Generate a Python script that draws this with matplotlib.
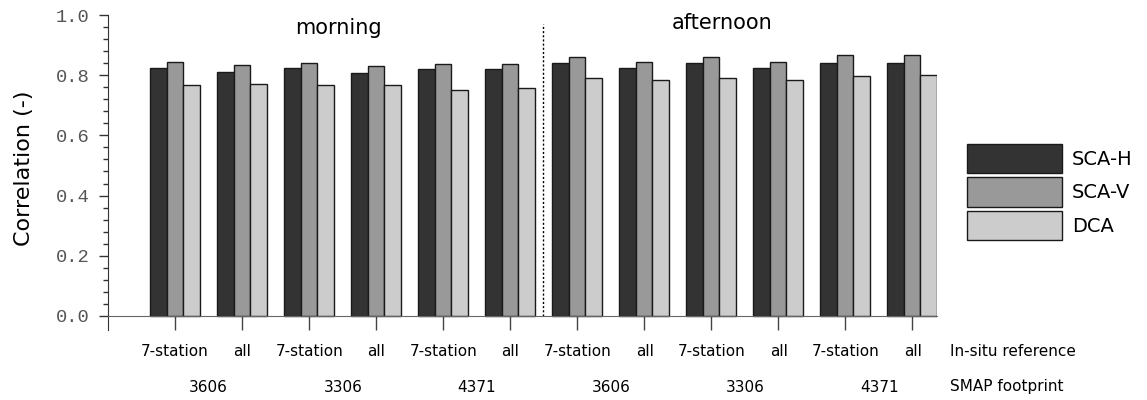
import matplotlib
matplotlib.use("Agg")
import matplotlib.pyplot as plt
import numpy as np
from matplotlib.ticker import FixedLocator

plt.rcParams["font.family"] = ["DejaVu Sans"]

reference = ["7-station", "all"] * 6
footprints = ["3606", "3306", "4371", "3606", "3306", "4371"]
periods = ["morning", "afternoon"]
series_names = ["SCA-H", "SCA-V", "DCA"]
sca_h = [0.825, 0.811, 0.823, 0.808, 0.821, 0.821, 0.840, 0.825, 0.840, 0.824, 0.840, 0.840]
sca_v = [0.844, 0.833, 0.841, 0.830, 0.838, 0.838, 0.860, 0.845, 0.860, 0.845, 0.866, 0.866]
dca = [0.768, 0.770, 0.768, 0.768, 0.750, 0.757, 0.790, 0.785, 0.790, 0.784, 0.796, 0.800]
colors = ["#333333", "#999999", "#cccccc"]
yticks = [0.0, 0.2, 0.4, 0.6, 0.8, 1.0]

fig = plt.figure(figsize=(11.47, 4.0), dpi=100)
ax = fig.add_axes([108/1147, 1-329.5/400, (937-108)/1147, 314.5/400])

x = np.arange(1, len(reference) + 1)
w = 0.25
handles = []
for k, (vals, c, name) in enumerate(zip([sca_h, sca_v, dca], colors, series_names)):
    b = ax.bar(x + (k - 1) * w, vals, width=w, color=c, edgecolor="#1a1a1a",
               linewidth=1.0, label=name, zorder=2)
    handles.append(b)

ax.set_xlim(0, 12.375)
ax.set_ylim(-0.045, 1.0)
ax.spines["top"].set_visible(False)
ax.spines["right"].set_visible(False)
ax.spines["bottom"].set_position(("data", 0))
ax.spines["bottom"].set_color("#666666")
ax.spines["left"].set_color("#333333")

ax.set_xticks(x)
ax.set_xticklabels([])
ax.tick_params(axis="x", direction="out", length=10, width=1, color="#444444")
ax.set_yticks(yticks)
ax.set_yticklabels([f"{v:.1f}" for v in yticks], family="Liberation Mono")
ax.yaxis.set_minor_locator(FixedLocator([i * 0.04 for i in range(26)]))
ax.tick_params(axis="y", which="major", length=6.5, width=1, color="#333333", pad=7,
               labelsize=13.5, labelcolor="#555555")
ax.tick_params(axis="y", which="minor", length=3.6, width=1, color="#333333")

ax.axvline(6.5, ymin=0.045/1.045, ymax=(0.045+0.97)/1.045, color="black",
           linestyle=(0, (1.5, 1.5)), linewidth=1)

for xi, lab in zip(x, reference):
    fig.text((108 + xi*67.08)/1147, 1-352/400, lab, ha="center", va="center", fontsize=11)
for j, lab in enumerate(footprints):
    fig.text((108 + (1.5 + 2*j)*67.08)/1147, 1-387/400, lab, ha="center", va="center", fontsize=11)
fig.text(950/1147, 1-352/400, "In-situ reference", ha="left", va="center", fontsize=11)
fig.text(950/1147, 1-387/400, "SMAP footprint", ha="left", va="center", fontsize=11)

fig.text(338/1147, 1-28/400, periods[0], ha="center", va="center", fontsize=15)
fig.text(722/1147, 1-23/400, periods[1], ha="center", va="center", fontsize=15)

fig.text(24/1147, 1-168/400, "Correlation (-)", rotation=90, ha="center", va="center", fontsize=16)

leg = fig.legend(handles=handles, labels=series_names, loc="upper left",
                 bbox_to_anchor=(967/1147, 1-144/400), frameon=False, fontsize=14,
                 handlelength=4.9, handleheight=1.95, labelspacing=0.2,
                 handletextpad=0.5, borderpad=0, borderaxespad=0)

fig.savefig("out.png", dpi=100)
